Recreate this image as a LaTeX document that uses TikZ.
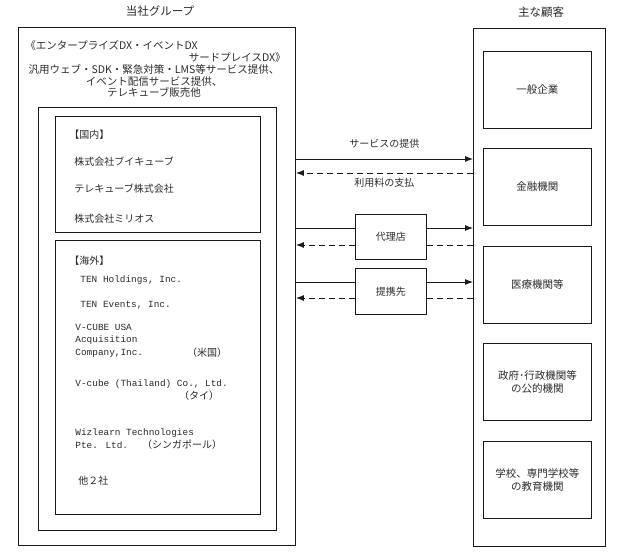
\documentclass[tikz,border=0pt]{standalone}
\usepackage{fontspec}
\setmainfont{Liberation Serif}
\newfontfamily\cjk{Noto Sans CJK JP}
\newfontfamily\latn{Liberation Mono}
\usetikzlibrary{arrows.meta, positioning}
\definecolor{cline}{HTML}{1A1A1A}
\definecolor{ctext}{HTML}{2B2B2B}
\tikzset{
  every picture/.style={line width=0.9pt},
  box/.style={draw=cline, anchor=north west, inner sep=0pt},
  arrow/.style={-{Latex[length=8pt, width=6pt]}, draw=cline},
  dashline/.style={draw=cline, dash pattern=on 6pt off 4pt},
  back/.style={dashline, -{Latex[length=8pt, width=6pt]}},
  jp/.style={font=\cjk\fontsize{10}{12}\selectfont, text=ctext, inner sep=0pt},
  hdr/.style={font=\cjk\fontsize{10.5}{11.5}\selectfont, text=ctext, inner sep=0pt},
  en/.style={font=\latn\fontsize{9.4}{12.5}\selectfont, text=ctext, inner sep=0pt, anchor=west, align=left},
  title/.style={font=\cjk\fontsize{11.5}{13}\selectfont, text=ctext, inner sep=0pt},
}

\begin{document}
\begin{tikzpicture}[x=1pt, y=-1pt]
  \useasboundingbox (0,0) rectangle (620,556);
  % group side
  \node[title] (ttl) at (160,11) {当社グループ};
  \node[box, minimum width=277pt, minimum height=518pt] (grp) at (18,27) {};
  \node[hdr, anchor=west] (l1) at (25,45) {《エンタープライズDX・イベントDX};
  \node[hdr, anchor=east] (l2) at (286,58) {サードプレイスDX》};
  \node[hdr, align=center] (l3) at (154,81) {汎用ウェブ・SDK・緊急対策・LMS等サービス提供、\\イベント配信サービス提供、\\テレキューブ販売他};
  \node[box, minimum width=238pt, minimum height=423pt] (grpin) at (38,107) {};
  \node[box, minimum width=205pt, minimum height=116pt] (dom) at (55,116) {};
  \node[box, minimum width=205pt, minimum height=274pt] (ovs) at (55,240) {};
  \node[jp, anchor=west] (dhd) at (69,135) {【国内】};
  \node[jp, anchor=west] (d1) at (74,162) {株式会社ブイキューブ};
  \node[jp, anchor=west] (d2) at (74,189) {テレキューブ株式会社};
  \node[jp, anchor=west] (d3) at (74,219) {株式会社ミリオス};
  \node[jp, anchor=west] (ohd) at (69,261) {【海外】};
  \node[en] (o1) at (80,280) {TEN Holdings, Inc.};
  \node[en] (o2) at (80,305) {TEN Events, Inc.};
  \node[en] (o3) at (75,340.5) {V-CUBE USA\\Acquisition\\Company,Inc.};
  \node[jp] (o3c) at (207,353) {（米国）};
  \node[en] (o4) at (75,384) {V-cube (Thailand) Co., Ltd.};
  \node[jp] (o4c) at (199,396) {（タイ）};
  \node[en] (o5) at (75,438.5) {Wizlearn Technologies\\Pte. Ltd.};
  \node[jp] (o5c) at (182,445) {（シンガポール）};
  \node[jp, anchor=west] (o6) at (78,481) {他２社};
  % customer side
  \node[title] (ttr) at (541,12) {主な顧客};
  \node[box, minimum width=132pt, minimum height=518pt] (cust) at (473,28) {};
  \node[box, jp, font=\cjk\fontsize{10.5}{13}\selectfont, minimum width=108pt, minimum height=77pt] (c1) at (483,51) {一般企業};
  \node[box, jp, font=\cjk\fontsize{10.5}{13}\selectfont, minimum width=108pt, minimum height=77pt] (c2) at (483,148) {金融機関};
  \node[box, jp, font=\cjk\fontsize{10.5}{13}\selectfont, minimum width=108pt, minimum height=77pt] (c3) at (483,246) {医療機関等};
  \node[box, jp, font=\cjk\fontsize{10.5}{13}\selectfont, minimum width=108pt, minimum height=77pt, align=center] (c4) at (483,343) {政府･行政機関等\\の公的機関};
  \node[box, jp, font=\cjk\fontsize{10.5}{13}\selectfont, minimum width=108pt, minimum height=77pt, align=center] (c5) at (483,441) {学校、専門学校等\\の教育機関};
  % flows
  \node[box, jp, minimum width=71pt, minimum height=45pt] (agt) at (355,214) {代理店};
  \node[box, jp, minimum width=71pt, minimum height=46pt] (ptn) at (355,268) {提携先};
  \draw[arrow] (grp.east |- 0,159) -- node[jp, above=10pt] {サービスの提供} (cust.west |- 0,159);
  \draw[back] (cust.west |- 0,173) -- node[jp, below=5pt] {利用料の支払} (grp.east |- 0,173);
  \draw[draw=cline] (grp.east |- 0,228) -- (agt.west |- 0,228);
  \draw[arrow] (agt.east |- 0,228) -- (cust.west |- 0,228);
  \draw[dashline] (cust.west |- 0,245) -- (agt.east |- 0,245);
  \draw[back] (agt.west |- 0,245) -- (grp.east |- 0,245);
  \draw[draw=cline] (grp.east |- 0,282) -- (ptn.west |- 0,282);
  \draw[arrow] (ptn.east |- 0,282) -- (cust.west |- 0,282);
  \draw[dashline] (cust.west |- 0,298) -- (ptn.east |- 0,298);
  \draw[back] (ptn.west |- 0,298) -- (grp.east |- 0,298);
\end{tikzpicture}
\end{document}
